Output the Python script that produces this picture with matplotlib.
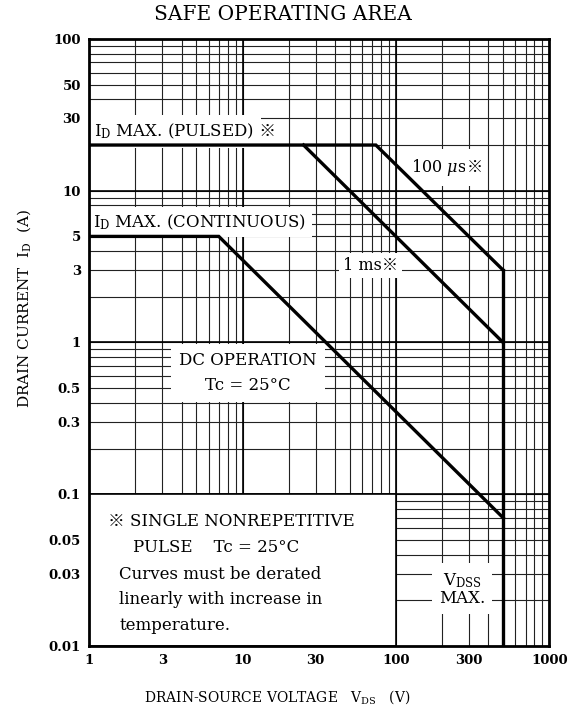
import numpy as np
import matplotlib
matplotlib.use("Agg")
import matplotlib.pyplot as plt
from matplotlib.ticker import LogLocator, FuncFormatter
from matplotlib.patches import Rectangle

plt.rcParams.update({"font.family": ["DejaVu Serif", "Noto Sans CJK JP"],
                     "mathtext.fontset": "dejavuserif", "font.size": 9})

# ---------------------------------------------------------------- datos
V_100US = [1, 74, 500]          # ID MAX pulsado + límite 100 µs
I_100US = [20, 20, 3.0]
V_1MS = [25, 500]
I_1MS = [20, 1.0]
V_DC = [1, 7, 500]
I_DC = [5, 5, 0.07]
V_VDSS = [500, 500]
I_VDSS = [0.01, 3.0]

X_LABELS = [1, 3, 10, 30, 100, 300, 1000]
Y_LABELS = [0.01, 0.03, 0.05, 0.1, 0.3, 0.5, 1, 3, 5, 10, 30, 50, 100]

fig = plt.figure(figsize=(5.68, 7.15), dpi=100)
ax = fig.add_axes([0.157, 0.0965, 0.810, 0.849])
ax.set_xscale("log"); ax.set_yscale("log")
ax.set_xlim(1, 1000); ax.set_ylim(0.01, 100)

# rejilla: todas las subdivisiones 1..9 como ticks mayores, etiquetas solo en algunas
for axis, labs in ((ax.xaxis, X_LABELS), (ax.yaxis, Y_LABELS)):
    axis.set_major_locator(LogLocator(base=10, subs=np.arange(1, 10), numticks=50))
    axis.set_minor_locator(LogLocator(base=10, subs=[], numticks=50))
    axis.set_major_formatter(FuncFormatter(
        lambda v, p, labs=labs: (f"{v:g}" if any(np.isclose(v, l) for l in labs) else "")))
ax.tick_params(length=0, pad=6, labelsize=9.5)
for lab in ax.get_xticklabels() + ax.get_yticklabels():
    lab.set_fontweight("bold")
ax.grid(True, which="major", color="#222222", lw=0.8)
ax.set_axisbelow(True)
for d in [0.1, 1, 10]:
    ax.axhline(d, color="k", lw=1.2, zorder=0.6)
for d in [10, 100]:
    ax.axvline(d, color="k", lw=1.2, zorder=0.6)
for s in ax.spines.values():
    s.set_linewidth(2.0)
    s.set_zorder(6)

# curvas SOA
kw = dict(color="k", lw=2.4, zorder=5, solid_joinstyle="miter")
ax.plot(V_100US, I_100US, **kw)
ax.plot(V_1MS, I_1MS, **kw)
ax.plot(V_DC, I_DC, **kw)
ax.plot(V_VDSS, I_VDSS, **kw)

# cuadro de notas
ax.add_patch(Rectangle((1, 0.01), 99, 0.09, facecolor="white", edgecolor="k", lw=1.2, zorder=3))


def caja(pad):
    return dict(facecolor="white", edgecolor="none", pad=pad)


def marca(t, fs, txt):
    """añade ※ detrás de un texto con mathtext (mathtext no tiene el glifo)"""
    ax.annotate(txt, xy=(1, 0.5), xycoords=t, va="center", ha="left", fontsize=fs,
                zorder=4, bbox=caja(1))


t = ax.text(1.08, 24.5, r"I$_{\rm D}$ MAX. (PULSED)", fontsize=12, va="center", ha="left",
            zorder=4, bbox=caja(5))
marca(t, 12, " ※")
ax.text(1.06, 6.2, r"I$_{\rm D}$ MAX. (CONTINUOUS)", fontsize=12, va="center", ha="left",
        zorder=4, bbox=caja(4))
t = ax.text(190, 14.2, r"100 $\mu$s", fontsize=11.5, va="center", ha="center", zorder=4,
            bbox=caja(6))
marca(t, 11.5, "※")
ax.text(68, 3.2, "1 ms※", fontsize=11.5, va="center", ha="center", zorder=4, bbox=caja(3))
ax.text(10.9, 0.63, "DC OPERATION\nTc = 25°C", fontsize=12, va="center", ha="center",
        linespacing=1.55, zorder=4, bbox=caja(6))
ax.text(270, 0.0238, "V$_{\\rm DSS}$\nMAX.", fontsize=12, va="center", ha="center",
        linespacing=1.0, zorder=4, bbox=caja(5))

notas = [(1.33, 0.0657, "※ SINGLE NONREPETITIVE"),
         (1.94, 0.0443, "PULSE    Tc = 25°C"),
         (1.57, 0.0298, "Curves must be derated"),
         (1.57, 0.0201, "linearly with increase in"),
         (1.57, 0.01355, "temperature.")]
for x, y, txt in notas:
    ax.text(x, y, txt, fontsize=12, va="center", ha="left", zorder=4)

fig.text(0.498, 1 - 15 / 715, "SAFE OPERATING AREA", fontsize=14.5, ha="center", va="center")
fig.text(0.488, 1 - 697 / 715, r"DRAIN-SOURCE VOLTAGE   V$_{\rm DS}$   (V)", fontsize=10,
         ha="center", va="center")
fig.text(24 / 568, 1 - 308 / 715, r"DRAIN CURRENT  I$_{\rm D}$  (A)", fontsize=11,
         ha="center", va="center", rotation=90)

fig.savefig("out.png", dpi=100)
